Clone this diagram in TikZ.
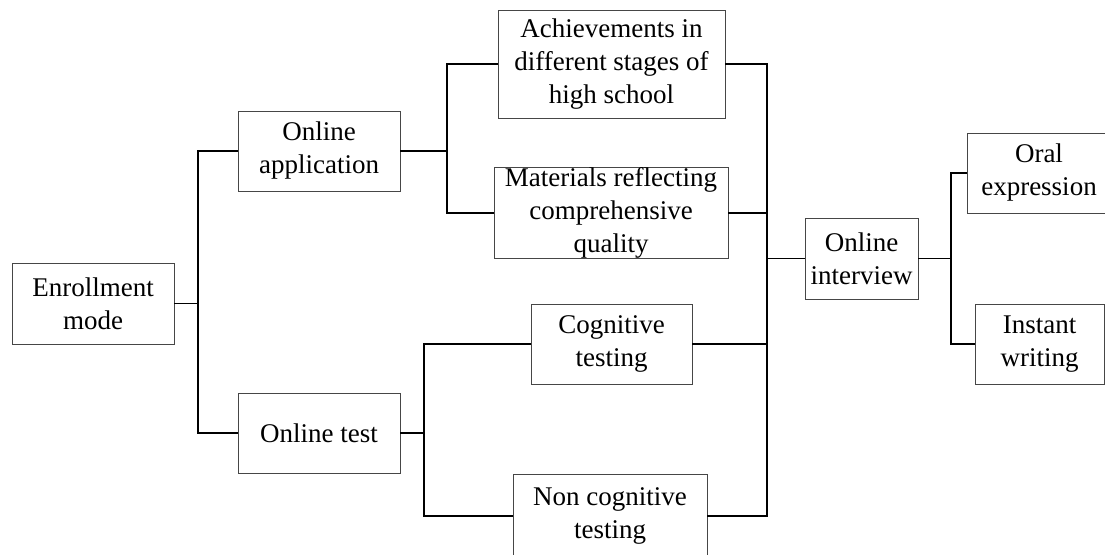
\documentclass[tikz,border=0pt]{standalone}
\usepackage{fontspec}
\setmainfont{Liberation Serif}
\usepackage{tikz}
\definecolor{frame}{RGB}{70,70,70}

\begin{document}
\begin{tikzpicture}[x=1pt, y=-1pt,
    box/.style={draw=frame, line width=0.9pt, inner sep=0pt, align=center,
        font=\fontsize{27}{33}\selectfont},
    link/.style={black, line width=1.6pt}]
    
    \useasboundingbox (0,0) rectangle (1105,554);
    
    \node[box, minimum width=162, minimum height=81] (enroll) at (93,303.5) {Enrollment\\mode};
    \node[box, minimum width=162, minimum height=80] (app) at (319,151) {Online\\application};
    \node[box, minimum width=162, minimum height=80] (test) at (319,433) {Online test};
    
    \node[box, minimum width=227, minimum height=108] (achieve) at (611.5,64) {Achievements in\\different stages of\\high school};
    \node[box, minimum width=234, minimum height=90] (material) at (611,213) {Materials reflecting\\comprehensive\\quality};
    \node[box, minimum width=161, minimum height=80] (cog) at (611.5,344) {Cognitive\\testing};
    \node[box, minimum width=194, minimum height=84] (noncog) at (610,516) {Non cognitive\\testing};
    
    \node[box, minimum width=113, minimum height=81] (interview) at (861.5,258.5) {Online\\interview};
    \node[box, minimum width=144, minimum height=80] (oral) at (1039,173) {Oral\\expression};
    \node[box, minimum width=129, minimum height=80] (instant) at (1039.5,344) {Instant\\writing};
    
    \coordinate (j1) at (198,303.5);
    \coordinate (j2) at (447,151);
    \coordinate (j3) at (424,433);
    \coordinate (j4) at (767,258.5);
    \coordinate (j5) at (951,258.5);
    
    \draw[link] (enroll.east) -- (j1);
    \draw[link] (app.west) -| (j1) |- (test.west);
    
    \draw[link] (app.east) -- (j2);
    \draw[link] (achieve.west) -| (j2) |- (material.west);
    
    \draw[link] (test.east) -- (j3);
    \draw[link] (cog.west) -| (j3) |- (noncog.west);
    
    \draw[link] (achieve.east) -| (j4) |- (noncog.east);
    \draw[link] (material.east) -- (material.east -| j4);
    \draw[link] (cog.east) -- (cog.east -| j4);
    \draw[link] (j4) -- (interview.west);
    
    \draw[link] (interview.east) -- (j5);
    \draw[link] (oral.west) -| (j5) |- (instant.west);
    
\end{tikzpicture}
\end{document}
